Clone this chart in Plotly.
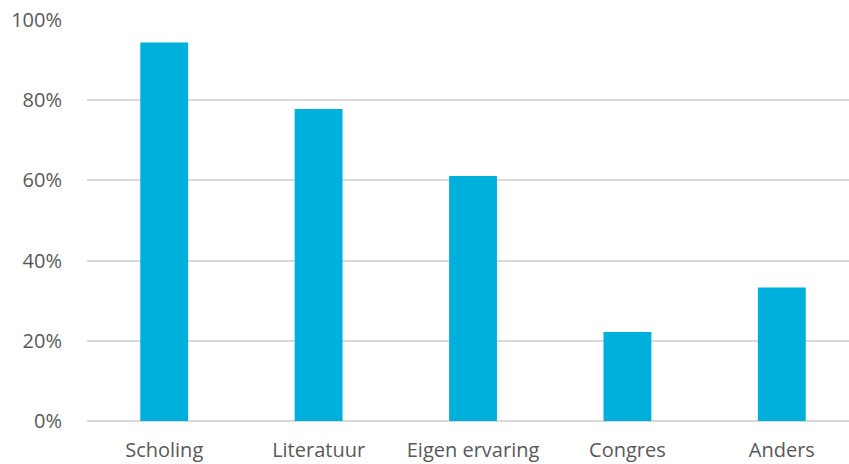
import plotly.graph_objects as go

categories = ["Scholing", "Literatuur", "Eigen ervaring", "Congres", "Anders"]
values = [0.944, 0.778, 0.611, 0.222, 0.333]
y_ticks = [0, 0.2, 0.4, 0.6, 0.8, 1.0]

fig = go.Figure(go.Bar(x=categories, y=values, marker_color="#00B0DC",
                       marker_line_width=0, width=0.31))

fig.update_layout(
    width=849, height=464,
    margin=dict(l=87, r=0, t=20, b=43, autoexpand=False),
    plot_bgcolor="white", paper_bgcolor="white",
    showlegend=False,
    font=dict(family="Open Sans", size=20, color="#595959"),
)
fig.update_xaxes(range=[-0.5, 4.435], showgrid=False, ticks="outside", ticklen=11,
                 tickcolor="white", showline=False, tickfont=dict(size=20),
                 automargin=False)
fig.update_yaxes(range=[0, 1.0], tickvals=y_ticks, tickformat=".0%",
                 showgrid=True, gridcolor="#D9D9D9", gridwidth=1.5,
                 zeroline=True, zerolinecolor="#D9D9D9", zerolinewidth=1.5,
                 ticks="outside", ticklen=20, tickcolor="white",
                 tickfont=dict(size=20), automargin=False)

fig.write_html("out.html")
